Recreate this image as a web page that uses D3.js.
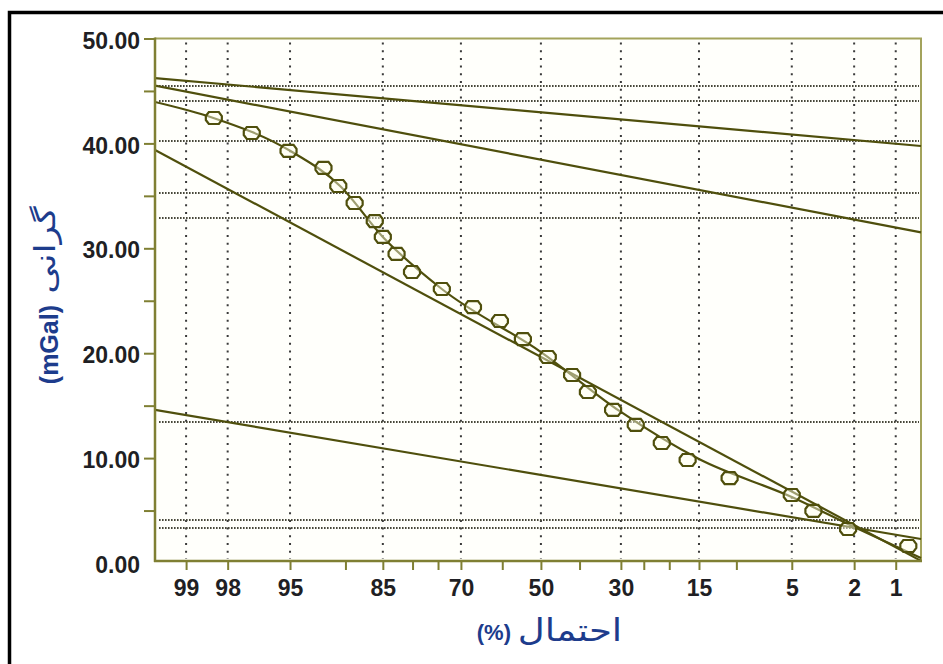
<!DOCTYPE html>
<html>
<head>
<meta charset="utf-8">
<script src="https://cdn.jsdelivr.net/npm/d3@7"></script>
<style>
  html, body { margin: 0; padding: 0; background: #ffffff; }
  svg { display: block; }
</style>
</head>
<body>
<svg id="chart" width="943" height="664"></svg>
<script>
// ---------------- DATA ----------------
// Probability axis (percent, exceedance, drawn right-to-left)
const xDomainProb = [99.43, 0.635];
const majorTickProbs = [99, 98, 95, 85, 70, 50, 30, 15, 5, 2, 1];
const minorTickProbs = [90, 80, 75, 60, 40, 25, 20, 10];

// Gravity axis (mGal)
const yTickValues = [0, 5, 10, 15, 20, 25, 30, 35, 40, 45, 50];
const yLabelValues = [0, 10, 20, 30, 40, 50];

// Horizontal reference (dotted) lines, mGal
const refLineValues = [45.47, 44.04, 40.23, 35.27, 32.89, 13.44, 4.10, 3.34];

// Observed cumulative points
const pointProb = [98.4, 97.1, 95.1, 92.3, 90.8, 88.9, 86.2, 85.0, 82.8, 80.1, 74.2, 67.2, 60.6,
                   54.7, 48.2, 41.9, 37.9, 31.8, 26.7, 21.4, 16.8, 10.8, 5.0, 3.7, 2.2, 0.8];
const pointVal  = [42.42, 40.99, 39.28, 37.66, 35.94, 34.32, 32.60, 31.08, 29.46, 27.74, 26.12, 24.40, 23.07,
                   21.35, 19.64, 17.92, 16.30, 14.59, 13.16, 11.44, 9.82, 8.10, 6.48, 4.96, 3.24, 1.62];

// Fitted cumulative curve through the points
const curveProb = [99.43, 98.43, 95.0, 90.6, 85.0, 74.2, 50, 30, 15, 5, 2, 0.635];
const curveVal  = [43.95, 42.45, 39.30, 35.94, 31.08, 26.12, 20.11, 14.40, 9.91, 6.29, 3.43, 0.48];

// Straight population lines (value at left edge, value at right edge)
const popLineProbs = [99.43, 0.635];
const popLineStart = [46.23, 45.50, 39.37, 14.59];
const popLineEnd   = [39.75, 31.52, 0.20, 2.29];

// Texts
const yTitleFa = "گرانی";
const yTitleUnit = "(mGal)";
const xTitleFa = "احتمال";
const xTitleUnit = "(%)";

// ---------------- HELPERS ----------------
// Inverse standard normal CDF (Acklam)
function probit(p) {
  const a = [-3.969683028665376e+01, 2.209460984245205e+02, -2.759285104469687e+02,
             1.383577518672690e+02, -3.066479806614716e+01, 2.506628277459239e+00];
  const b = [-5.447609879822406e+01, 1.615858368580409e+02, -1.556989798598866e+02,
             6.680131188771972e+01, -1.328068155288572e+01];
  const c = [-7.784894002430293e-03, -3.223964580411365e-01, -2.400758277161838e+00,
             -2.549732539343734e+00, 4.374664141464968e+00, 2.938163982698783e+00];
  const d = [7.784695709041462e-03, 3.224671290700398e-01, 2.445134137142996e+00,
             3.754408661907416e+00];
  const pl = 0.02425, ph = 1 - pl;
  let q, r;
  if (p < pl) {
    q = Math.sqrt(-2 * Math.log(p));
    return (((((c[0]*q+c[1])*q+c[2])*q+c[3])*q+c[4])*q+c[5]) / ((((d[0]*q+d[1])*q+d[2])*q+d[3])*q+1);
  } else if (p <= ph) {
    q = p - 0.5; r = q * q;
    return (((((a[0]*r+a[1])*r+a[2])*r+a[3])*r+a[4])*r+a[5])*q / (((((b[0]*r+b[1])*r+b[2])*r+b[3])*r+b[4])*r+1);
  } else {
    q = Math.sqrt(-2 * Math.log(1 - p));
    return -(((((c[0]*q+c[1])*q+c[2])*q+c[3])*q+c[4])*q+c[5]) / ((((d[0]*q+d[1])*q+d[2])*q+d[3])*q+1);
  }
}
const zOf = pct => probit(pct / 100);

// ---------------- LAYOUT ----------------
const svg = d3.select("#chart");
const plotLeft = 155, plotRight = 921, plotTop = 38.5, plotBottom = 561;

const x = d3.scaleLinear().domain(xDomainProb.map(zOf)).range([plotLeft, plotRight]);
const y = d3.scaleLinear().domain([0, 50]).range([563, 38.5]);

const olive = "#4f4f0c";
const axisCol = "#7f7f33";
const labelCol = "#1f1f24";
const titleCol = "#1d3c8c";

// outer black frame (top + left visible)
svg.append("path")
  .attr("d", "M9.5,664 V12.5 H943")
  .attr("fill", "none").attr("stroke", "#000").attr("stroke-width", 3.5);

// plot background
svg.append("rect")
  .attr("x", plotLeft).attr("y", plotTop)
  .attr("width", plotRight - plotLeft).attr("height", plotBottom - plotTop)
  .attr("fill", "#fffffb");

// clip
svg.append("clipPath").attr("id", "clip")
  .append("rect").attr("x", plotLeft).attr("y", plotTop)
  .attr("width", plotRight - plotLeft + 1).attr("height", plotBottom - plotTop + 1);

// vertical dotted grid
svg.append("g").selectAll("line").data(majorTickProbs).join("line")
  .attr("x1", d => x(zOf(d))).attr("x2", d => x(zOf(d)))
  .attr("y1", plotTop + 4).attr("y2", plotBottom - 2)
  .attr("stroke", "#3a3a3a").attr("stroke-width", 2)
  .attr("stroke-dasharray", "2,5.7");

// horizontal dotted reference lines
svg.append("g").selectAll("line").data(refLineValues).join("line")
  .attr("x1", plotLeft + 4).attr("x2", plotRight - 2)
  .attr("y1", d => y(d)).attr("y2", d => y(d))
  .attr("stroke", "#47473a").attr("stroke-width", 2)
  .attr("stroke-dasharray", "1.6,1.4");

// plot frame (top & right)
svg.append("path")
  .attr("d", `M${plotLeft},${plotTop} H${plotRight} V${plotBottom}`)
  .attr("fill", "none").attr("stroke", "#a3a35c").attr("stroke-width", 2);

const linesG = svg.append("g").attr("clip-path", "url(#clip)");

// population straight lines
const popLine = d3.line().x(d => x(zOf(d[0]))).y(d => y(d[1]));
popLineStart.forEach((v, i) => {
  linesG.append("path")
    .attr("d", popLine([[popLineProbs[0], v], [popLineProbs[1], popLineEnd[i]]]))
    .attr("fill", "none").attr("stroke", olive).attr("stroke-width", 2.2);
});

// fitted curve
linesG.append("path")
  .attr("d", d3.line().x(d => x(zOf(d[0]))).y(d => y(d[1])).curve(d3.curveMonotoneX)(
    curveProb.map((p, i) => [p, curveVal[i]])))
  .attr("fill", "none").attr("stroke", olive).attr("stroke-width", 2.2);

// points (octagonal markers)
const marker = "M-8,-2 L-5,-6 L5,-6 L8,-2 L8,2 L5,6 L-5,6 L-8,2 Z";
svg.append("g").selectAll("path").data(pointProb.map((p, i) => [p, pointVal[i]])).join("path")
  .attr("transform", d => `translate(${x(zOf(d[0]))},${y(d[1])})`)
  .attr("d", marker)
  .attr("fill", "rgba(255,255,235,0.45)")
  .attr("stroke", "#4f4f0c").attr("stroke-width", 2.2);

// Y axis
const yAxis = d3.axisLeft(y).tickValues(yTickValues).tickSize(11).tickPadding(4)
  .tickFormat(d => yLabelValues.includes(d) ? d.toFixed(2) : "");
const gy = svg.append("g").attr("transform", `translate(${plotLeft},0)`).call(yAxis);
gy.select(".domain").remove();
gy.selectAll(".tick line").attr("stroke", axisCol).attr("stroke-width", 2)
  .filter(d => d === 0).remove();
gy.selectAll(".tick text")
  .attr("fill", labelCol).attr("font-family", "'Liberation Sans', Arial, sans-serif")
  .attr("font-size", 23).attr("font-weight", "bold").attr("dy", "0.42em");
svg.append("line").attr("x1", plotLeft).attr("x2", plotLeft)
  .attr("y1", plotTop - 1).attr("y2", plotBottom + 1)
  .attr("stroke", axisCol).attr("stroke-width", 2.5);

// X axis (major)
const xAxis = d3.axisBottom(x).tickValues(majorTickProbs.map(zOf)).tickSize(9).tickPadding(10)
  .tickFormat((d, i) => String(majorTickProbs[i]));
const gx = svg.append("g").attr("transform", `translate(0,${plotBottom})`).call(xAxis);
gx.select(".domain").remove();
gx.selectAll(".tick line").attr("stroke", axisCol).attr("stroke-width", 2);
gx.selectAll(".tick text")
  .attr("fill", labelCol).attr("font-family", "'Liberation Sans', Arial, sans-serif")
  .attr("font-size", 23).attr("font-weight", "bold");

// X axis (minor)
const xMinor = d3.axisBottom(x).tickValues(minorTickProbs.map(zOf)).tickSize(9).tickFormat("");
const gxm = svg.append("g").attr("transform", `translate(0,${plotBottom})`).call(xMinor);
gxm.select(".domain").remove();
gxm.selectAll(".tick line").attr("stroke", axisCol).attr("stroke-width", 2);

svg.append("line").attr("x1", plotLeft - 1).attr("x2", plotRight + 1)
  .attr("y1", plotBottom).attr("y2", plotBottom)
  .attr("stroke", axisCol).attr("stroke-width", 2.5);

// Y title (rotated)
const yt = svg.append("g").attr("transform", "translate(58,300) rotate(-90)");
yt.append("text").text(yTitleUnit)
  .attr("x", -5).attr("y", 0).attr("text-anchor", "end")
  .attr("font-family", "'Liberation Sans', Arial, sans-serif").attr("font-weight", "bold")
  .attr("font-size", 25).attr("fill", titleCol);
yt.append("text").text(yTitleFa)
  .attr("transform", "translate(50,-3) scale(1.25,1)")
  .attr("text-anchor", "middle")
  .attr("font-family", "'DejaVu Sans', sans-serif")
  .attr("font-size", 29).attr("fill", titleCol);

// X title
svg.append("text").text(xTitleUnit)
  .attr("x", 511).attr("y", 640).attr("text-anchor", "end")
  .attr("font-family", "'Liberation Sans', Arial, sans-serif").attr("font-weight", "bold")
  .attr("font-size", 22).attr("fill", titleCol);
svg.append("text").text(xTitleFa)
  .attr("transform", "translate(570,641) scale(1.2,1)")
  .attr("text-anchor", "middle")
  .attr("font-family", "'DejaVu Sans', sans-serif")
  .attr("font-size", 31).attr("fill", titleCol);
</script>
</body>
</html>
